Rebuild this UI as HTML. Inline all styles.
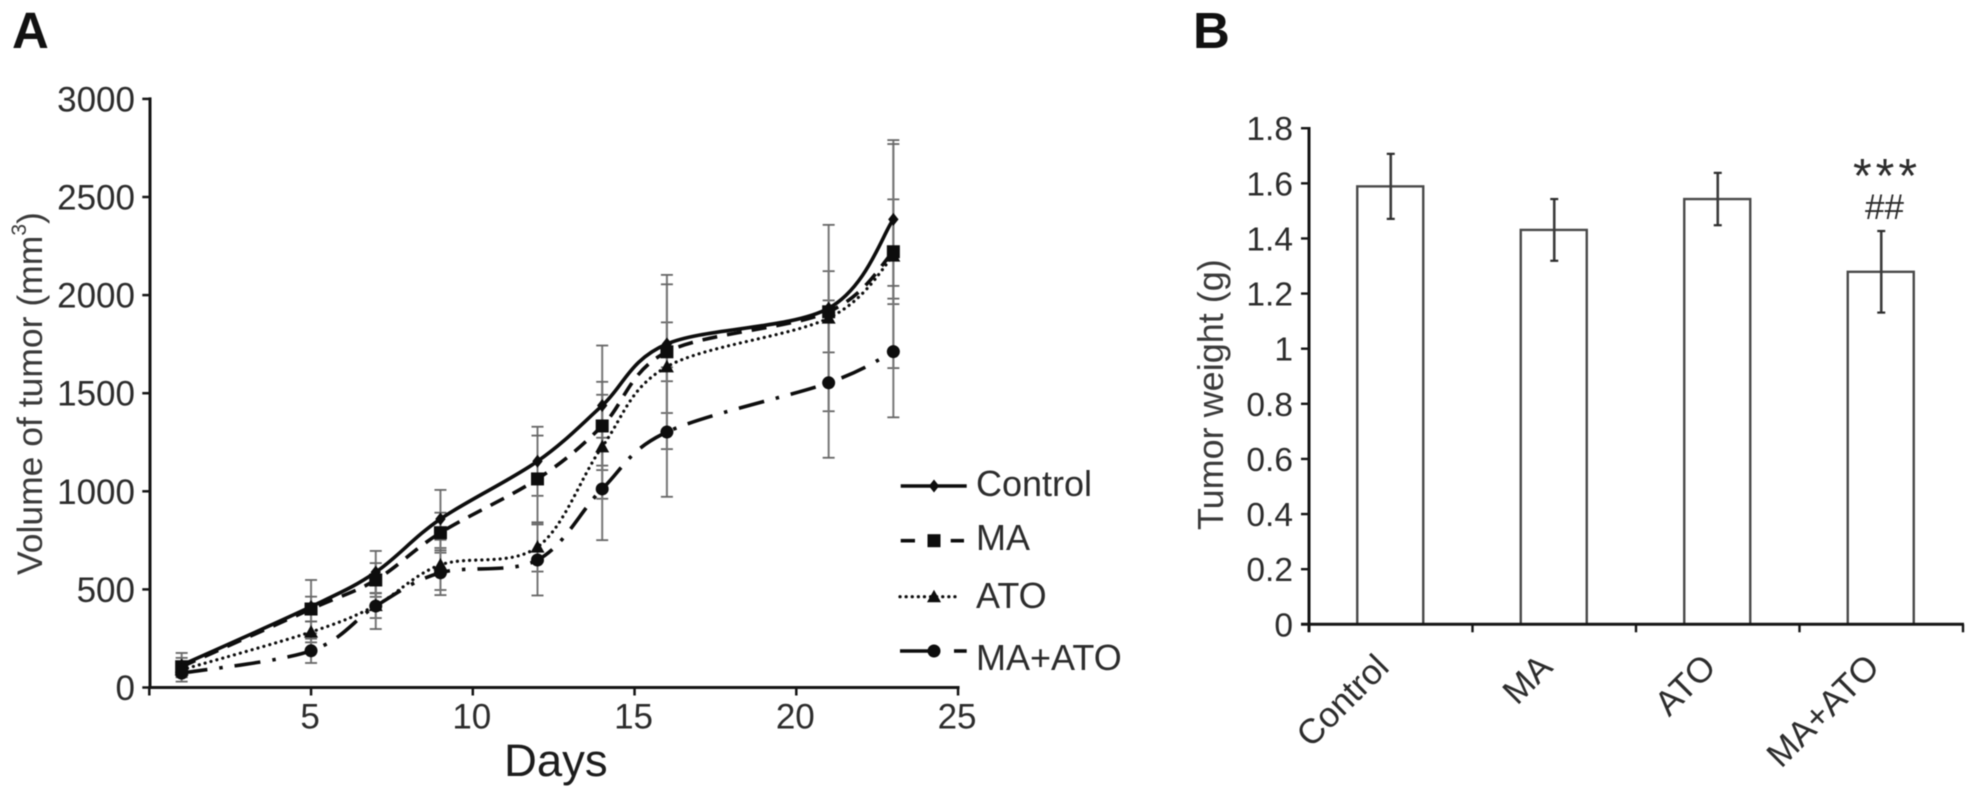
<!DOCTYPE html>
<html lang="en">
<head>
<meta charset="utf-8">
<title>Tumor volume and weight</title>
<style>
html,body{margin:0;padding:0;background:#fff;width:1977px;height:798px;overflow:hidden}
svg{display:block;filter:blur(0.6px)}
text{font-family:"Liberation Sans",Arial,sans-serif;fill:#2c2c2c}
</style>
</head>
<body>
<svg id="figure" width="1977" height="798" viewBox="0 0 1977 798" xmlns="http://www.w3.org/2000/svg">
  <rect x="0" y="0" width="1977" height="798" fill="#fff"/>
  <text x="12" y="48" font-size="51" font-weight="700" style="fill:#111">A</text>
  <text x="1193" y="48" font-size="51" font-weight="700" style="fill:#111">B</text>
  <text transform="translate(42 575) rotate(-90)" font-size="35.5" style="fill:#3a3a3a">Volume of tumor (mm<tspan dy="-16" font-size="21">3</tspan><tspan dy="16">)</tspan></text>
  <text x="504" y="776" font-size="45.5" style="fill:#1c1c1c">Days</text>
  <text transform="translate(1223 530) rotate(-90)" font-size="36" style="fill:#3a3a3a">Tumor weight (g)</text>
  <text x="1887" y="192" text-anchor="middle" font-size="48" letter-spacing="4" style="fill:#2c2c2c">***</text>
  <text x="1884.5" y="219" text-anchor="middle" font-size="35" style="fill:#2c2c2c">##</text>
  <g id="panel-a"></g>
  <g id="panel-b"></g>
</svg>
<script>
// ---- Panel A data ----
const days = [1, 5, 7, 9, 12, 14, 16, 21, 23];
const controlVolume = [114, 412, 588, 859, 1153, 1437, 1751, 1933, 2386];
const maVolume = [106, 400, 548, 789, 1063, 1333, 1711, 1915, 2221];
const atoVolume = [90, 283, 418, 625, 716, 1227, 1635, 1883, 2199];
const maAtoVolume = [73, 187, 415, 585, 650, 1012, 1302, 1553, 1712];
const controlError = [62, 136, 108, 148, 176, 306, 352, 40, 404];
const maError = [45, 63, 86, 102, 221, 225, 150, 207, 267];
const atoError = [35, 53, 64, 128, 125, 265, 420, 475, 571];
const maAtoError = [43, 62, 117, 114, 181, 261, 330, 382, 335];
const volumeTicks = [0, 500, 1000, 1500, 2000, 2500, 3000];
const dayTicks = [0, 5, 10, 15, 20, 25];
const seriesNames = ['Control', 'MA', 'ATO', 'MA+ATO'];

// ---- Panel B data ----
const groups = ['Control', 'MA', 'ATO', 'MA+ATO'];
const weights = [1.589, 1.431, 1.543, 1.279];
const weightErrors = [0.118, 0.112, 0.095, 0.148];
const weightTicks = ['0', '0.2', '0.4', '0.6', '0.8', '1', '1.2', '1.4', '1.6', '1.8'];

const NS = 'http://www.w3.org/2000/svg';
function mk(parent, tag, props, txt) {
  const el = document.createElementNS(NS, tag);
  for (const k in props) el.setAttribute(k, props[k]);
  if (txt !== undefined) el.textContent = txt;
  parent.appendChild(el);
  return el;
}

// ---- axis functions ----
const xDay = d => 149.3 + 32.35 * d;
const yVol = v => 687.5 - 0.1962 * v;
const yWeight = v => 624.3 - 275.6 * v;
const xGroupEdge = i => 1309 + 163.5 * i;
const xGroup = i => xGroupEdge(i + 0.5);

const AXIS = '#151515';
const panelA = document.getElementById('panel-a');
const panelB = document.getElementById('panel-b');

// ---- marker shapes ----
function marker(parent, kind, x, y, scale) {
  let el;
  if (kind === 'diamond') {
    const r = 6.5 * scale;
    el = mk(parent, 'polygon', {points: `${x},${y - r} ${x + r * 0.8},${y} ${x},${y + r} ${x - r * 0.8},${y}`, fill: '#0d0d0d'});
  } else if (kind === 'square') {
    const r = 6.5 * scale;
    el = mk(parent, 'rect', {x: x - r, y: y - r, width: 2 * r, height: 2 * r, fill: '#0d0d0d'});
  } else if (kind === 'triangle') {
    const r = 7 * scale;
    el = mk(parent, 'polygon', {points: `${x},${y - r} ${x + r},${y + r * 0.8} ${x - r},${y + r * 0.8}`, fill: '#0d0d0d'});
  } else {
    el = mk(parent, 'circle', {cx: x, cy: y, r: 6.5 * scale, fill: '#0d0d0d'});
  }
  return el;
}

// ---- smoothed line through points (Catmull-Rom) ----
function smoothPath(pts) {
  let d = `M${pts[0][0]} ${pts[0][1]}`;
  for (let i = 0; i < pts.length - 1; i++) {
    const p0 = pts[Math.max(i - 1, 0)], p1 = pts[i], p2 = pts[i + 1], p3 = pts[Math.min(i + 2, pts.length - 1)];
    const c1x = p1[0] + (p2[0] - p0[0]) / 6, c1y = p1[1] + (p2[1] - p0[1]) / 6;
    const c2x = p2[0] - (p3[0] - p1[0]) / 6, c2y = p2[1] - (p3[1] - p1[1]) / 6;
    d += ` C${c1x} ${c1y} ${c2x} ${c2y} ${p2[0]} ${p2[1]}`;
  }
  return d;
}

const seriesValues = [controlVolume, maVolume, atoVolume, maAtoVolume];
const seriesErrors = [controlError, maError, atoError, maAtoError];
const seriesDash = ['none', '15 10', '0.1 6', '26 12 3.5 12'];
const seriesWidth = [3.6, 3.6, 3.2, 3.6];
const seriesMarker = ['diamond', 'square', 'triangle', 'circle'];

// error bars first (behind lines)
seriesNames.forEach((name, s) => {
  days.forEach((d, i) => {
    const x = xDay(d), top = yVol(seriesValues[s][i] + seriesErrors[s][i]), bot = yVol(seriesValues[s][i] - seriesErrors[s][i]);
    const stem = mk(panelA, 'line', {x1: x, x2: x, y1: top, y2: bot, stroke: '#777', 'stroke-width': 2});
    
    
    [top, bot].forEach(cy => {
      const cap = mk(panelA, 'line', {x1: x - 6, x2: x + 6, y1: cy, y2: cy, stroke: '#666', 'stroke-width': 1.8});
      
      
    });
  });
});

// axes A
const axisAY = mk(panelA, 'line', {x1: xDay(0) + 0.7, x2: xDay(0) + 0.7, y1: yVol(3000) - 1.5, y2: yVol(0) + 1.5, stroke: AXIS, 'stroke-width': 3});


const axisAX = mk(panelA, 'line', {x1: xDay(0) - 1, x2: xDay(25) + 1.5, y1: yVol(0), y2: yVol(0), stroke: AXIS, 'stroke-width': 3});


volumeTicks.forEach(v => {
  const t = mk(panelA, 'line', {x1: xDay(0) - 7, x2: xDay(0) + 1, y1: yVol(v), y2: yVol(v), stroke: AXIS, 'stroke-width': 2.5});
  
  
  const l = mk(panelA, 'text', {x: 135, y: yVol(v) + 12.5, 'text-anchor': 'end', 'font-size': 35}, String(v));
  
  
});
dayTicks.forEach(v => {
  const t = mk(panelA, 'line', {x1: xDay(v), x2: xDay(v), y1: yVol(0), y2: yVol(0) + 8, stroke: AXIS, 'stroke-width': 2.5});
  
  
  if (v > 0) {
    const l = mk(panelA, 'text', {x: xDay(v) - 1, y: 728.5, 'text-anchor': 'middle', 'font-size': 35}, String(v));
    
    
  }
});

// lines + markers
seriesNames.forEach((name, s) => {
  const pts = days.map((d, i) => [xDay(d), yVol(seriesValues[s][i])]);
  const path = mk(panelA, 'path', {d: smoothPath(pts), fill: 'none', stroke: '#0d0d0d', 'stroke-width': seriesWidth[s], 'stroke-linecap': s === 2 ? 'round' : 'butt'});
  if (seriesDash[s] !== 'none') path.setAttribute('stroke-dasharray', seriesDash[s]);
  
  
  pts.forEach((p, i) => {
    const m = marker(panelA, seriesMarker[s], p[0], p[1], 1);
    
    
  });
});

// legend
const legendRowY = [486, 540.7, 596.7, 651];
const legendTextY = [496, 550, 608, 670];
const legendSegments = [[[900.7, 966.7]], [[900.7, 915], [950.7, 964]], [[900, 960]], [[900, 928], [954, 966.7]]];
const legendSw = [3.6, 3.6, 3.2, 3.6];
seriesNames.forEach((name, s) => {
  const g = mk(panelA, 'g', {});
  
  
  legendSegments[s].forEach(seg => {
    const ln = mk(g, 'line', {x1: seg[0], x2: seg[1], y1: legendRowY[s], y2: legendRowY[s], stroke: '#0d0d0d', 'stroke-width': legendSw[s]});
    if (s === 2) {
      ln.setAttribute('stroke-dasharray', '0.1 6');
      ln.setAttribute('stroke-linecap', 'round');
    }
    
    
  });
  const m = marker(g, seriesMarker[s], 934, legendRowY[s], 1);
  
  
  const t = mk(g, 'text', {x: 976, y: legendTextY[s], 'font-size': 36}, name);
  
  
});

// ---- Panel B ----
groups.forEach((name, i) => {
  const cx = xGroup(i) - 0.5;
  const bar = mk(panelB, 'rect', {x: cx - 33, y: yWeight(weights[i]), width: 66, height: yWeight(0) - yWeight(weights[i]), fill: '#fff', stroke: '#4a4a4a', 'stroke-width': 2.4});
  
  
  const ex = xGroup(i);
  const top = yWeight(weights[i] + weightErrors[i]), bot = yWeight(weights[i] - weightErrors[i]);
  const stem = mk(panelB, 'line', {x1: ex, x2: ex, y1: top, y2: bot, stroke: '#3c3c3c', 'stroke-width': 2.6});
  
  
  [top, bot].forEach(cy => {
    const cap = mk(panelB, 'line', {x1: ex - 4, x2: ex + 4, y1: cy, y2: cy, stroke: '#2c2c2c', 'stroke-width': 2.2});
    
    
  });
  const lb = mk(panelB, 'text', {transform: `translate(${ex} 669) rotate(-45)`, 'text-anchor': 'end', 'font-size': 35}, name);
  
  
});
const axisBY = mk(panelB, 'line', {x1: 1309, x2: 1309, y1: yWeight(1.8) - 1.2, y2: yWeight(0) + 8, stroke: AXIS, 'stroke-width': 3});


const axisBX = mk(panelB, 'line', {x1: 1301, x2: xGroupEdge(4) + 1, y1: yWeight(0), y2: yWeight(0), stroke: AXIS, 'stroke-width': 3});


weightTicks.forEach(v => {
  const t = mk(panelB, 'line', {x1: 1301, x2: 1309, y1: yWeight(+v), y2: yWeight(+v), stroke: AXIS, 'stroke-width': 2.4});
  
  
  const l = mk(panelB, 'text', {x: 1293, y: yWeight(+v) + 12, 'text-anchor': 'end', 'font-size': 33.5}, v);
  
  
});
groups.forEach((name, i) => {
  const t = mk(panelB, 'line', {x1: xGroupEdge(i + 1), x2: xGroupEdge(i + 1), y1: yWeight(0), y2: yWeight(0) + 8, stroke: AXIS, 'stroke-width': 2.4});
  
  
});
</script>
</body>
</html>
